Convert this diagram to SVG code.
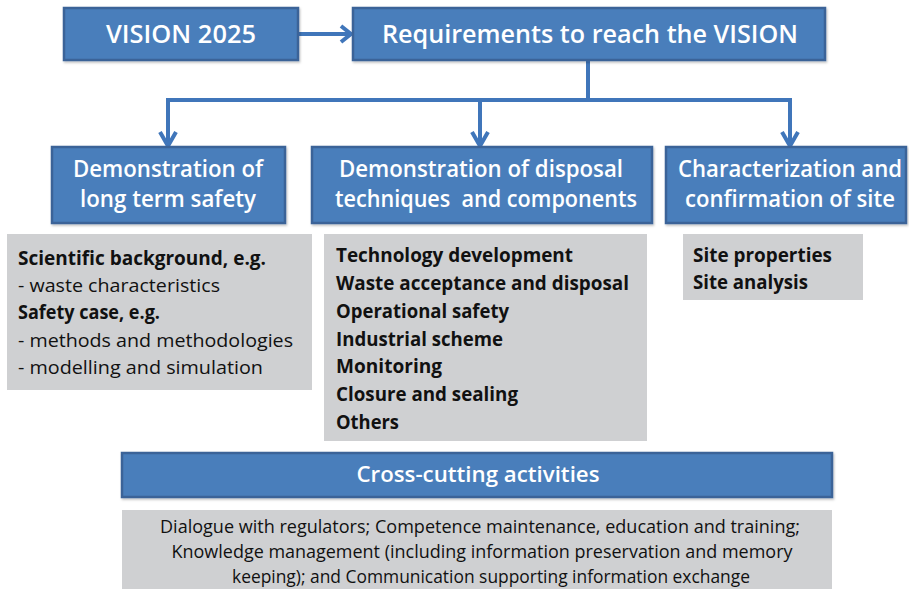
<svg xmlns="http://www.w3.org/2000/svg" width="909" height="589" viewBox="0 0 909 589">
<defs>
<style>
.blue{fill:#4a7ebb;stroke:#3a6498;stroke-width:2.5}
.gray{fill:#cfd0d2}
.wt{fill:#ffffff;font-family:"Open Sans","Lato",sans-serif;font-weight:600;text-anchor:middle}
.bt{fill:#111111;font-family:"Open Sans","Lato",sans-serif;font-size:19px}
.b{font-weight:700}
.ct{fill:#111111;font-family:"Open Sans","Lato",sans-serif;font-size:17.5px;text-anchor:middle}
.conn{fill:none;stroke:#4076ba;stroke-width:4;stroke-linejoin:miter}
</style>
<filter id="sh" x="-5%" y="-5%" width="110%" height="120%">
<feDropShadow dx="1" dy="1.5" stdDeviation="1" flood-color="#000" flood-opacity="0.25"/>
</filter>
</defs>
<rect width="909" height="589" fill="#ffffff"/>

<g id="connectors">
<path class="conn" d="M298 34 H350"/>
<path class="conn" d="M341 26 L351 34 L341 42"/>
<path class="conn" d="M588 60 V100 M166 100 H792 M168 98 V145 M480 100 V145 M790 98 V145"/>
<path class="conn" d="M160 132 L168 146 L176 132"/>
<path class="conn" d="M472 132 L480 146 L488 132"/>
<path class="conn" d="M782 132 L790 146 L798 132"/>
</g>

<g id="vision">
<rect class="blue" x="64" y="8" width="234" height="52" filter="url(#sh)"/>
<text class="wt" x="181" y="43" font-size="26" textLength="150" lengthAdjust="spacingAndGlyphs">VISION 2025</text>
</g>

<g id="requirements">
<rect class="blue" x="353" y="8" width="472" height="52" filter="url(#sh)"/>
<text class="wt" x="590" y="43" font-size="26" textLength="416" lengthAdjust="spacingAndGlyphs">Requirements to reach the VISION</text>
</g>

<g id="long-term-safety">
<rect class="blue" x="52" y="147" width="233" height="76" filter="url(#sh)"/>
<text class="wt" x="168" y="177" font-size="22.5" textLength="190" lengthAdjust="spacingAndGlyphs">Demonstration of</text>
<text class="wt" x="168" y="207" font-size="22.5" textLength="176" lengthAdjust="spacingAndGlyphs">long term safety</text>
</g>

<g id="disposal-techniques">
<rect class="blue" x="312" y="147" width="340" height="76" filter="url(#sh)"/>
<text class="wt" x="481" y="177" font-size="22.5" textLength="284" lengthAdjust="spacingAndGlyphs">Demonstration of disposal</text>
<text class="wt" x="486" y="207" font-size="22.5" textLength="302" lengthAdjust="spacingAndGlyphs" xml:space="preserve">techniques  and components</text>
</g>

<g id="site">
<rect class="blue" x="666" y="147" width="240" height="76" filter="url(#sh)"/>
<text class="wt" x="790" y="177" font-size="22.5" textLength="224" lengthAdjust="spacingAndGlyphs">Characterization and</text>
<text class="wt" x="790" y="207" font-size="22.5" textLength="210" lengthAdjust="spacingAndGlyphs">confirmation of site</text>
</g>

<g id="safety-details">
<rect class="gray" x="7" y="234" width="305" height="156"/>
<text class="bt b" x="18" y="265" textLength="248" lengthAdjust="spacingAndGlyphs">Scientific background, e.g.</text>
<text class="bt" x="18" y="292" textLength="202" lengthAdjust="spacingAndGlyphs">- waste characteristics</text>
<text class="bt b" x="18" y="319" textLength="142" lengthAdjust="spacingAndGlyphs">Safety case, e.g.</text>
<text class="bt" x="18" y="347" textLength="275" lengthAdjust="spacingAndGlyphs">- methods and methodologies</text>
<text class="bt" x="18" y="374" textLength="245" lengthAdjust="spacingAndGlyphs">- modelling and simulation</text>
</g>

<g id="disposal-details">
<rect class="gray" x="324" y="234" width="323" height="207"/>
<text class="bt b" x="336" y="262" textLength="237" lengthAdjust="spacingAndGlyphs">Technology development</text>
<text class="bt b" x="336" y="290" textLength="293" lengthAdjust="spacingAndGlyphs">Waste acceptance and disposal</text>
<text class="bt b" x="336" y="318" textLength="173" lengthAdjust="spacingAndGlyphs">Operational safety</text>
<text class="bt b" x="336" y="346" textLength="167" lengthAdjust="spacingAndGlyphs">Industrial scheme</text>
<text class="bt b" x="336" y="373" textLength="106" lengthAdjust="spacingAndGlyphs">Monitoring</text>
<text class="bt b" x="336" y="401" textLength="182" lengthAdjust="spacingAndGlyphs">Closure and sealing</text>
<text class="bt b" x="336" y="429" textLength="63" lengthAdjust="spacingAndGlyphs">Others</text>
</g>

<g id="site-details">
<rect class="gray" x="683" y="234" width="180" height="66"/>
<text class="bt b" x="693" y="262" textLength="139" lengthAdjust="spacingAndGlyphs">Site properties</text>
<text class="bt b" x="693" y="289" textLength="115" lengthAdjust="spacingAndGlyphs">Site analysis</text>
</g>

<g id="cross-cutting">
<rect class="blue" x="122" y="453" width="710" height="44" filter="url(#sh)"/>
<text class="wt" x="478" y="482" font-size="21" font-weight="400" textLength="243" lengthAdjust="spacingAndGlyphs">Cross-cutting activities</text>
</g>

<g id="cross-cutting-details">
<rect class="gray" x="122" y="510" width="710" height="85"/>
<text class="ct" x="480" y="533" textLength="640" lengthAdjust="spacingAndGlyphs">Dialogue with regulators; Competence maintenance, education and training;</text>
<text class="ct" x="482" y="558" textLength="621" lengthAdjust="spacingAndGlyphs">Knowledge management (including information preservation and memory</text>
<text class="ct" x="491" y="583" textLength="518" lengthAdjust="spacingAndGlyphs">keeping); and Communication supporting information exchange</text>
</g>
</svg>
